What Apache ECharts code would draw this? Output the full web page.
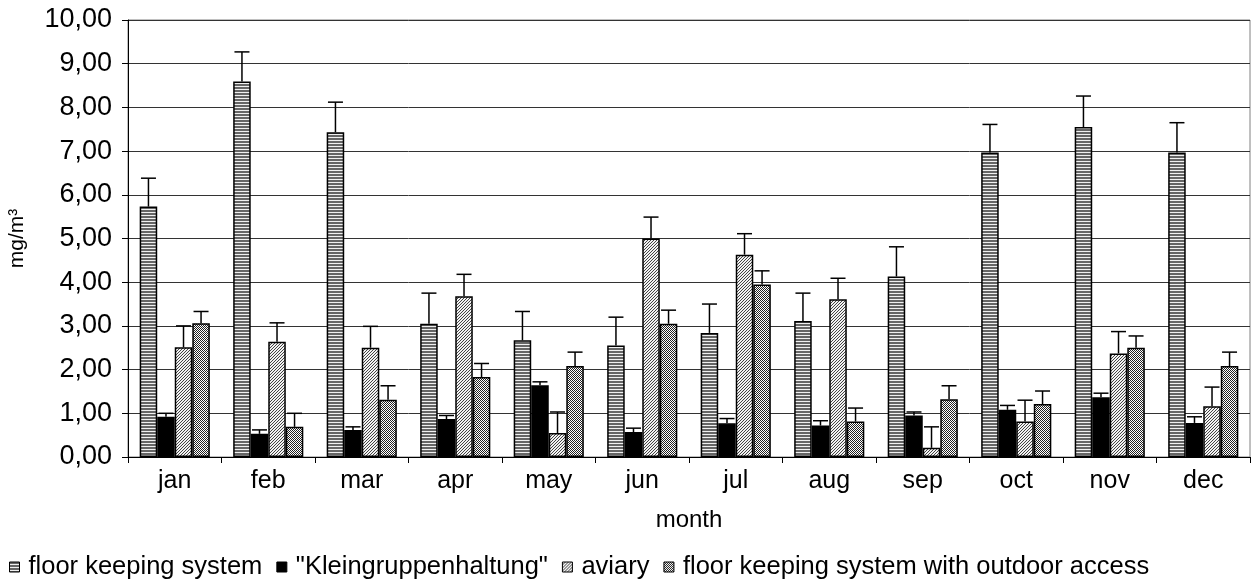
<!DOCTYPE html>
<html><head><meta charset="utf-8">
<script src="https://cdn.jsdelivr.net/npm/echarts@6/dist/echarts.min.js"></script>
<style>html,body{margin:0;padding:0;background:#fff}#c{width:1252px;height:588px}</style>
</head><body><div id="c"></div>
<script>
const months = ['jan','feb','mar','apr','may','jun','jul','aug','sep','oct','nov','dec'];
const seriesNames = ['floor keeping system','"Kleingruppenhaltung"','aviary','floor keeping system with outdoor access'];
const floorVals   = [5.73,8.59,7.43,3.05,2.67,2.55,2.84,3.11,4.13,6.97,7.55,6.97];
const floorErr    = [0.65,0.68,0.69,0.70,0.66,0.65,0.66,0.64,0.68,0.64,0.71,0.68];
const kleinVals   = [0.92,0.53,0.62,0.87,1.64,0.57,0.77,0.72,0.95,1.08,1.37,0.78];
const kleinErr    = [0.08,0.09,0.07,0.08,0.08,0.09,0.11,0.11,0.08,0.10,0.09,0.14];
const aviaryVals  = [2.51,2.64,2.50,3.68,0.55,5.00,4.63,3.61,0.21,0.81,2.37,1.16];
const aviaryErr   = [0.49,0.43,0.49,0.50,0.48,0.49,0.48,0.48,0.48,0.49,0.50,0.44];
const outdoorVals = [3.06,0.69,1.31,1.83,2.08,3.05,3.95,0.81,1.32,1.21,2.50,2.08];
const outdoorErr  = [0.27,0.31,0.32,0.31,0.32,0.31,0.31,0.31,0.31,0.30,0.27,0.32];
const yTicks = {min:0, max:10, interval:1};

function pattern(kind){
  const c = document.createElement('canvas');
  const ctx = c.getContext('2d');
  if(kind==='h'){
    c.width=4;c.height=3;
    ctx.fillStyle='#f0f0f0';ctx.fillRect(0,0,4,3);
    ctx.fillStyle='#666';ctx.fillRect(0,0,4,2);
  } else if(kind==='d'){
    c.width=3;c.height=3;
    ctx.fillStyle='#f2f2f2';ctx.fillRect(0,0,3,3);
    ctx.fillStyle='#444';
    for(let i=0;i<3;i++){ctx.fillRect((2-i+3)%3,i,1,1);}
  } else if(kind==='x'){
    c.width=2;c.height=2;
    ctx.fillStyle='#ffffff';ctx.fillRect(0,0,2,2);
    ctx.fillStyle='#222';ctx.fillRect(0,0,1,1);ctx.fillRect(1,1,1,1);
  }
  return {image:c, repeat:'repeat'};
}
const fills = [pattern('h'), '#000000', pattern('d'), pattern('x')];
const valsList = [floorVals,kleinVals,aviaryVals,outdoorVals];
const errList = [floorErr,kleinErr,aviaryErr,outdoorErr];

const FONT = 'Liberation Sans, Arial, sans-serif';
const chart = echarts.init(document.getElementById('c'), null, {renderer:'canvas'});
const series = [];
valsList.forEach((vals,i)=>{
  series.push({
    name: seriesNames[i], type:'bar', data: vals,
    barGap:'0%', barCategoryGap:'25%',
    itemStyle:{color: fills[i], borderColor:'#000', borderWidth:1.5},
    emphasis:{disabled:true}, z:2
  });
});
valsList.forEach((vals,i)=>{
  series.push({
    type:'custom', name: seriesNames[i]+' err', z:3, silent:true,
    data: vals.map((v,k)=>[k, v, v+errList[i][k]]),
    encode:{x:0,y:[1,2]},
    renderItem:function(params, api){
      const cat = api.value(0);
      const base = api.coord([cat, api.value(1)]);
      const top = api.coord([cat, api.value(2)]);
      const catW = api.size([1,0])[0];
      const bw = catW*0.75/4;
      const cx = base[0] - catW*0.375 + bw*(i+0.5);
      const st = {stroke:'#000', lineWidth:1.5};
      return {type:'group', children:[
        {type:'line', shape:{x1:cx,y1:base[1],x2:cx,y2:top[1]}, style:st},
        {type:'line', shape:{x1:cx-7.5,y1:top[1],x2:cx+7.5,y2:top[1]}, style:st}
      ]};
    }
  });
});

chart.setOption({
  animation:false,
  textStyle:{fontFamily:FONT},
  grid:{left:128, right:2, top:20, bottom:131, containLabel:false, outerBoundsMode:'none',
        show:true, borderColor:'#808080', borderWidth:1},
  legend:{
    data: seriesNames, bottom:3, left:4, itemWidth:10, itemHeight:10, itemGap:14,
    icon:'rect',
    textStyle:{fontSize:25.5, color:'#000', fontFamily:FONT, padding:[0,0,0,4]},
    itemStyle:{borderColor:'#000', borderWidth:1}
  },
  xAxis:{
    type:'category', data: months,
    name:'month', nameLocation:'middle', nameGap:51,
    nameTextStyle:{fontSize:24, color:'#000', fontFamily:FONT},
    axisLine:{lineStyle:{color:'#000', width:1}},
    axisTick:{show:true, length:6, lineStyle:{color:'#000'}},
    axisLabel:{fontSize:25, color:'#000', margin:12, fontFamily:FONT}
  },
  yAxis:{
    type:'value', min:yTicks.min, max:yTicks.max, interval:yTicks.interval,
    name:'mg/m³', nameLocation:'middle', nameGap:100, nameRotate:90,
    nameTextStyle:{fontSize:21, color:'#000', fontFamily:FONT},
    axisLine:{show:true, lineStyle:{color:'#000', width:1}},
    axisTick:{show:true, inside:false, length:6, lineStyle:{color:'#000'}},
    axisLabel:{fontSize:27, color:'#000', margin:16, fontFamily:FONT,
      formatter:v=>v.toFixed(2).replace('.',',')},
    splitLine:{show:true, lineStyle:{color:'#333', width:1}}
  },
  series: series
});
</script></body></html>
